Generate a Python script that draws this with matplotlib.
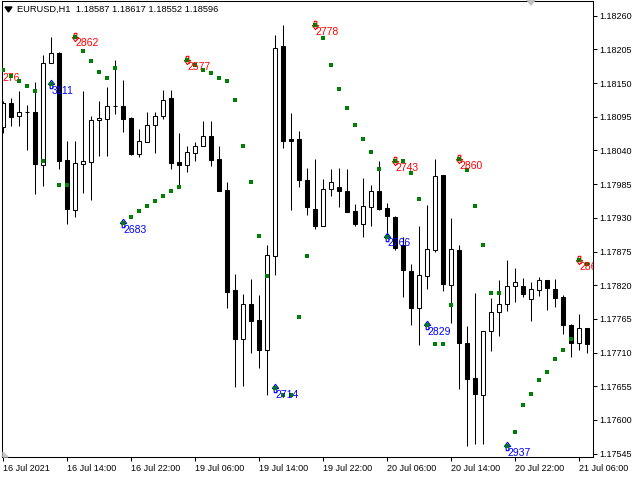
import numpy as np
import matplotlib.pyplot as plt
from matplotlib.path import Path
from matplotlib.patches import Polygon

plt.rcParams['font.family'] = ['Liberation Sans', 'DejaVu Sans']

# EURUSD H1 candles, first bar = 16 Jul 2021 06:00
opens = [1.18079, 1.18117, 1.18096, 1.18102, 1.18103, 1.18017, 1.18182, 1.18199, 1.18024, 1.17943,
         1.18018, 1.18021, 1.18089, 1.18092, 1.18112, 1.18113, 1.18093, 1.18035, 1.18054, 1.18081,
         1.18097, 1.18125, 1.18021, 1.18017, 1.18036, 1.18048, 1.18063, 1.18026, 1.17975, 1.17812,
         1.17732, 1.17790, 1.17763, 1.17714, 1.17868, 1.18211, 1.18058, 1.18058, 1.17992, 1.17944,
         1.17917, 1.17977, 1.17980, 1.17973, 1.17941, 1.17920, 1.17948, 1.17973, 1.17946, 1.17932,
         1.17886, 1.17843, 1.17783, 1.17835, 1.17878, 1.18000, 1.17821, 1.17877, 1.17725, 1.17668,
         1.17640, 1.17746, 1.17776, 1.17790, 1.17818, 1.17819, 1.17797, 1.17812, 1.17828, 1.17813,
         1.17800, 1.17755, 1.17725, 1.17750]
highs = [1.18120, 1.18125, 1.18137, 1.18114, 1.18152, 1.18196, 1.18225, 1.18201, 1.18055, 1.18055,
         1.18137, 1.18097, 1.18121, 1.18144, 1.18188, 1.18155, 1.18094, 1.18075, 1.18103, 1.18103,
         1.18138, 1.18138, 1.18068, 1.18047, 1.18054, 1.18088, 1.18088, 1.18047, 1.17988, 1.17838,
         1.17805, 1.17830, 1.17804, 1.17885, 1.18228, 1.18245, 1.18101, 1.18072, 1.18011, 1.18026,
         1.17993, 1.18010, 1.18011, 1.18010, 1.17953, 1.17995, 1.17984, 1.18023, 1.17955, 1.17933,
         1.17899, 1.17854, 1.17917, 1.17951, 1.18026, 1.18000, 1.17930, 1.17886, 1.17754, 1.17807,
         1.17746, 1.17799, 1.17828, 1.17861, 1.17848, 1.17832, 1.17825, 1.17833, 1.17828, 1.17830,
         1.17804, 1.17756, 1.17773, 1.17750]
lows = [1.18069, 1.18080, 1.18080, 1.18041, 1.17969, 1.17982, 1.18182, 1.18010, 1.17920, 1.17932,
        1.17971, 1.17959, 1.18031, 1.18031, 1.18099, 1.18070, 1.18033, 1.18030, 1.18054, 1.18036,
        1.18092, 1.18010, 1.17981, 1.18004, 1.18022, 1.18048, 1.18015, 1.17973, 1.17782, 1.17653,
        1.17656, 1.17710, 1.17684, 1.17640, 1.17837, 1.18044, 1.17943, 1.17981, 1.17935, 1.17912,
        1.17917, 1.17966, 1.17947, 1.17940, 1.17916, 1.17899, 1.17917, 1.17943, 1.17899, 1.17878,
        1.17801, 1.17755, 1.17722, 1.17814, 1.17874, 1.17811, 1.17759, 1.17651, 1.17557, 1.17560,
        1.17561, 1.17713, 1.17737, 1.17778, 1.17793, 1.17800, 1.17762, 1.17803, 1.17780, 1.17785,
        1.17741, 1.17702, 1.17714, 1.17710]
closes = [1.18118, 1.18095, 1.18102, 1.18102, 1.18018, 1.18182, 1.18199, 1.18023, 1.17945, 1.18019,
          1.18022, 1.18090, 1.18093, 1.18113, 1.18112, 1.18092, 1.18034, 1.18055, 1.18081, 1.18097,
          1.18123, 1.18020, 1.18017, 1.18037, 1.18048, 1.18063, 1.18025, 1.17974, 1.17809, 1.17732,
          1.17790, 1.17762, 1.17715, 1.17869, 1.18208, 1.18056, 1.18056, 1.17991, 1.17948, 1.17916,
          1.17977, 1.17988, 1.17974, 1.17940, 1.17920, 1.17949, 1.17973, 1.17945, 1.17933, 1.17881,
          1.17844, 1.17783, 1.17836, 1.17879, 1.17998, 1.17822, 1.17879, 1.17726, 1.17667, 1.17643,
          1.17746, 1.17776, 1.17790, 1.17818, 1.17825, 1.17805, 1.17813, 1.17828, 1.17815, 1.17799,
          1.17755, 1.17726, 1.17750, 1.17724]
# indicator dots
sar = [1.18171, 1.18161, 1.18153, 1.18145, 1.18137, 1.18022, 1.18148, 1.17983, 1.17983, 1.18226,
       1.18203, 1.18186, 1.18168, 1.18158, 1.18174, 1.17921, 1.17931, 1.17941, 1.17949, 1.17957,
       1.17965, 1.17973, 1.17980, 1.18187, 1.18180, 1.18172, 1.18166, 1.18159, 1.18153, 1.18122,
       1.18047, 1.17988, 1.17900, 1.17835, 1.17652, 1.17640, 1.17640, 1.17768, 1.17867, 1.18244,
       1.18223, 1.18179, 1.18141, 1.18109, 1.18081, 1.18058, 1.18037, 1.18009, 1.17899, 1.18022,
       1.18022, 1.18003, 1.17960, 1.17755, 1.17724, 1.17724, 1.17787, 1.18026, 1.18008, 1.17949,
       1.17885, 1.17807, 1.17807, 1.17557, 1.17580, 1.17624, 1.17642, 1.17665, 1.17679, 1.17699,
       1.17715, 1.17732, 1.17861, 1.17854]

# signal arrows
sig_bar = [6, 9, 15, 23, 34, 39, 48, 49, 53, 57, 63, 72]
sig_up = [True, False, True, False, True, False, True, False, True, False, True, False]
sig_text = ["3111", "2862", "2683", "2577", "2714", "2778", "2766", "2743", "2829", "2860", "2937", "286"]
# label of the signal just off the left edge
left_label = "276"
left_label_price = 1.18169

date_labels = ["16 Jul 2021", "16 Jul 14:00", "16 Jul 22:00", "19 Jul 06:00", "19 Jul 14:00",
               "19 Jul 22:00", "20 Jul 06:00", "20 Jul 14:00", "20 Jul 22:00", "21 Jul 06:00"]
price_ticks = [1.18260, 1.18205, 1.18150, 1.18095, 1.18040, 1.17985, 1.17930,
               1.17875, 1.17820, 1.17765, 1.17710, 1.17655, 1.17600, 1.17545]
title = "EURUSD,H1  1.18587 1.18617 1.18552 1.18596"

o = np.array(opens)
h = np.array(highs)
l = np.array(lows)
c = np.array(closes)
x = np.arange(len(o))

fig = plt.figure(figsize=(6.4, 4.8), dpi=100)
ax = fig.add_axes([2/640, 23/480, 590.7/640, 456/480])
lw = 0.75

ax.vlines(x, l, h, color='black', lw=lw)
up = c >= o
ax.bar(x[up], c[up] - o[up], bottom=o[up], width=0.5, facecolor='white',
       edgecolor='black', lw=lw, zorder=2)
ax.bar(x[~up], o[~up] - c[~up], bottom=c[~up], width=0.5, facecolor='black',
       edgecolor='black', lw=lw, zorder=2)

# arrow shapes
dn = Path([(-0.16, 0.5), (0.16, 0.5), (0.16, 0.0), (0.38, 0.0), (0.0, -0.5),
           (-0.38, 0.0), (-0.16, 0.0), (-0.16, 0.5)])
upa = Path([(-0.16, -0.5), (0.16, -0.5), (0.16, 0.0), (0.38, 0.0), (0.0, 0.5),
            (-0.38, 0.0), (-0.16, 0.0), (-0.16, -0.5)])
s = np.array(sar)
for b, isup, t in zip(sig_bar, sig_up, sig_text):
    col = '#0000ff' if isup else '#ff0000'
    ax.plot(b - 0.1, s[b], marker=upa if isup else dn, ms=6, mfc='none', mec=col,
            mew=0.8, zorder=3, clip_on=True)
    ax.annotate(t, (b, s[b]), xytext=(0, -1.2), textcoords='offset points',
                ha='left', va='top', color=col, fontsize=7.5, annotation_clip=False,
                clip_on=True, zorder=4)
ax.annotate(left_label, (-0.08, left_label_price), xytext=(0, -1.2),
            textcoords='offset points', ha='left', va='top', color='#ff0000',
            fontsize=7.5, clip_on=True)

ax.plot(x, s, 's', color='#008000', ms=2.2, mew=0, zorder=3)

ax.set_xlim(-0.1625, 73.675)
ax.set_ylim(1.175395, 1.182840)
ax.yaxis.tick_right()
ax.set_yticks(price_ticks)
ax.set_yticklabels(["%.5f" % p for p in price_ticks])
ax.set_xticks(np.arange(0, 73, 8))
ax.set_xticklabels(date_labels, ha='left')
ax.tick_params(axis='both', direction='out', length=3, width=lw, pad=2,
               labelsize=6.5, colors='black')
for sp in ax.spines.values():
    sp.set_linewidth(lw)

# header and small terminal markers
fig.text(17/640, 1 - 9.5/480, title, fontsize=6.7, va='center', ha='left')
fig.add_artist(Polygon([(5/640, 1 - 7/480), (12/640, 1 - 7/480), (8.5/640, 1 - 12/480)],
                       closed=True, color='black', transform=fig.transFigure))
fig.add_artist(Polygon([(527/640, 1.0), (535/640, 1.0), (531/640, 1 - 5/480)],
                       closed=True, color='#c0c0c0', transform=fig.transFigure))
fig.add_artist(Polygon([(3/640, 1 - 457/480), (3/640, 1 - 452/480), (8/640, 1 - 457/480)],
                       closed=True, color='#c8c8c8', transform=fig.transFigure))

fig.savefig('out.png', dpi=100)
